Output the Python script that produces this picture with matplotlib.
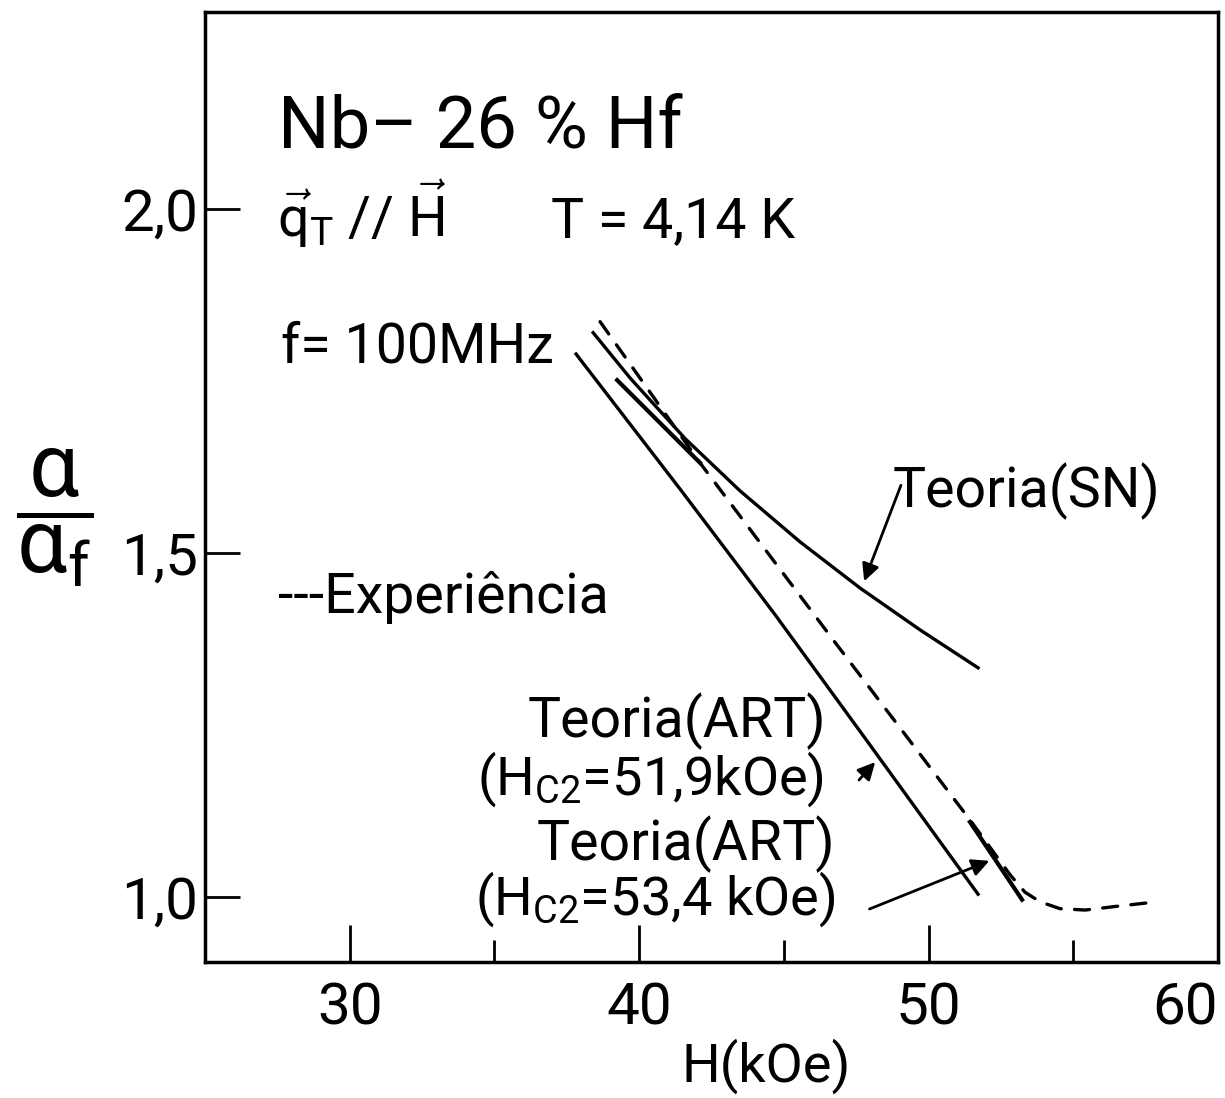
import matplotlib
matplotlib.use('Agg')
import matplotlib.pyplot as plt
import numpy as np
from matplotlib.ticker import FixedLocator

plt.rcParams['font.family'] = ['Roboto', 'DejaVu Sans']
plt.rcParams['mathtext.fontset'] = 'custom'
plt.rcParams['mathtext.rm'] = 'Roboto'
plt.rcParams['mathtext.it'] = 'Roboto:italic'
plt.rcParams['mathtext.bf'] = 'Roboto:bold'

W, H = 1225, 1098

# ── dados: H (kOe) e atenuação normalizada α/α_f ─────────────
h_exp = [38.65, 42.10, 46.84, 51.43, 52.82, 53.33, 53.85, 54.54, 55.41, 56.62, 57.90]
a_exp = [1.836, 1.631, 1.366, 1.112, 1.032, 1.007, 0.993, 0.983, 0.981, 0.987, 0.993]

h_sn = [38.41, 39.69, 41.59, 43.49, 45.56, 47.63, 49.71, 51.71]
a_sn = [1.820, 1.754, 1.666, 1.590, 1.516, 1.449, 1.388, 1.333]

h_art519 = [37.82, 41.41, 44.70, 47.87, 51.71]
a_art519 = [1.789, 1.593, 1.410, 1.227, 1.004]

# Hc2 = 53,4 kOe: só os trechos fora da curva experimental
h_art534 = [39.24, 42.10, np.nan, 51.43, 53.23]
a_art534 = [1.751, 1.631, np.nan, 1.109, 0.996]

xticks = [30, 40, 50, 60]
xtick_labels = ['30', '40', '50', '60']
xminor = [35, 45, 55]
yticks = [1.0, 1.5, 2.0]
ytick_labels = ['1,0', '1,5', '2,0']


def fx(px):
    return px / W


def fy(py):
    return 1 - py / H


fig = plt.figure(figsize=(W / 100, H / 100), dpi=100)
ax = fig.add_axes([fx(205), fy(962), (1218 - 205) / W, (962 - 12) / H])

lw = 2.4
ax.plot(h_exp, a_exp, color='k', lw=lw, ls=(0, (4.5, 4)), dash_capstyle='round')
ax.plot(h_sn, a_sn, color='k', lw=lw)
ax.plot(h_art519, a_art519, color='k', lw=lw)
ax.plot(h_art534, a_art534, color='k', lw=lw + 0.6)

ax.set_xlim(25, 60)
ax.set_ylim(0.9055, 2.286)

ax.set_xticks(xticks, labels=xtick_labels)
ax.xaxis.set_minor_locator(FixedLocator(xminor))
ax.set_yticks(yticks, labels=ytick_labels)
ax.tick_params(axis='x', which='major', direction='in', length=27, width=2,
               labelsize=42, pad=14)
ax.tick_params(axis='x', which='minor', direction='in', length=16, width=2)
ax.tick_params(axis='y', which='major', direction='in', length=25, width=2,
               labelsize=42, pad=5)
ax.get_xticklabels()[-1].set_horizontalalignment('right')
for sp in ax.spines.values():
    sp.set_linewidth(2.5)

# setas das legendas
arrow = dict(arrowstyle='-|>', color='k', lw=2, mutation_scale=26)
ax.annotate('', xy=(47.74, 1.455), xytext=(49.08, 1.602), arrowprops=arrow)
ax.annotate('', xy=(48.22, 1.199), xytext=(47.53, 1.167), arrowprops=arrow)
ax.annotate('', xy=(52.19, 1.054), xytext=(47.87, 0.981), arrowprops=arrow)

# textos
fig.text(fx(278), fy(148), 'Nb– 26 % Hf', fontsize=52, va='baseline')
fig.text(fx(277), fy(237), r'$\vec{\mathrm{q}}_{\mathrm{T}}$ // $\vec{\mathrm{H}}$',
         fontsize=40, va='baseline')
fig.text(fx(551), fy(237), 'T = 4,14 K', fontsize=40, va='baseline')
fig.text(fx(281), fy(362), 'f= 100MHz', fontsize=40, va='baseline')
fig.text(fx(278), fy(613), '---Experiência', fontsize=40, va='baseline')
fig.text(fx(893), fy(507), 'Teoria(SN)', fontsize=40, va='baseline')
fig.text(fx(528), fy(737), 'Teoria(ART)', fontsize=40, va='baseline')
fig.text(fx(477), fy(795), r'(H$_{\mathrm{C2}}$=51,9kOe)', fontsize=39, va='baseline')
fig.text(fx(537), fy(860), 'Teoria(ART)', fontsize=40, va='baseline')
fig.text(fx(475), fy(915), r'(H$_{\mathrm{C2}}$=53,4 kOe)', fontsize=39, va='baseline')

fig.text(fx(682), fy(1082), 'H(kOe)', fontsize=39, va='baseline')
fig.text(fx(55), fy(518), r'$\dfrac{\mathrm{\alpha}}{\mathrm{\alpha}_{\mathrm{f}}}$',
         fontsize=64, ha='center', va='center')

fig.savefig('out.png', dpi=100)
